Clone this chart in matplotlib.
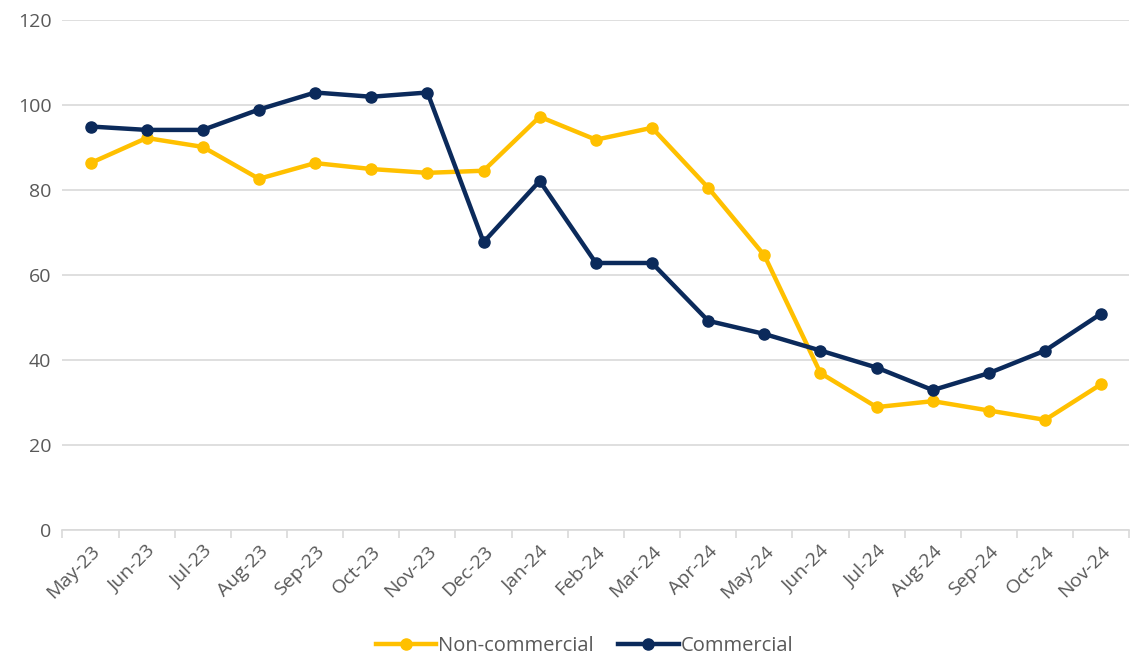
import numpy as np
import matplotlib
matplotlib.use('Agg')
import matplotlib.pyplot as plt
from matplotlib.ticker import FixedLocator

months = ['May-23', 'Jun-23', 'Jul-23', 'Aug-23', 'Sep-23', 'Oct-23', 'Nov-23', 'Dec-23',
          'Jan-24', 'Feb-24', 'Mar-24', 'Apr-24', 'May-24', 'Jun-24', 'Jul-24', 'Aug-24',
          'Sep-24', 'Oct-24', 'Nov-24']
non_commercial = [86.3, 92.2, 90.1, 82.6, 86.3, 84.9, 84.0, 84.5, 97.2, 91.8, 94.6,
                  80.5, 64.6, 36.9, 28.9, 30.3, 28.1, 25.9, 34.3]
commercial = [94.9, 94.1, 94.1, 98.9, 102.9, 101.9, 102.9, 67.7, 82.1, 62.8, 62.8,
              49.2, 46.1, 42.2, 38.2, 32.9, 36.9, 42.2, 50.9]

plt.rcParams['font.family'] = ['Open Sans', 'DejaVu Sans']

fig = plt.figure(figsize=(11.35, 6.6), dpi=100)
ax = fig.add_axes([0.055, 0.197, 0.94, 0.773])

x = np.arange(len(months))
ax.plot(x, non_commercial, color='#FFC000', lw=3.2, marker='o', ms=8,
        label='Non-commercial', zorder=3)
ax.plot(x, commercial, color='#0B2A5B', lw=3.2, marker='o', ms=8,
        label='Commercial', zorder=4)

ax.set_xlim(-0.5, len(months) - 0.5)
ax.set_ylim(0, 120)
ax.set_yticks(range(0, 121, 20))
ax.grid(axis='y', color='#D9D9D9', lw=1.2)
ax.set_axisbelow(True)

for s in ['top', 'right', 'left']:
    ax.spines[s].set_visible(False)
ax.spines['bottom'].set_color('#D9D9D9')
ax.spines['bottom'].set_linewidth(1.2)

ax.set_xticks(x)
ax.set_xticklabels(months, rotation=45, ha='right', rotation_mode='anchor')
ax.xaxis.set_minor_locator(FixedLocator(np.arange(-0.5, len(months), 1)))
ax.tick_params(axis='x', which='major', length=0, pad=9, labelsize=14, colors='#595959')
ax.tick_params(axis='x', which='minor', length=6, color='#D9D9D9', width=1.2)
ax.tick_params(axis='y', length=0, labelsize=14, colors='#595959', pad=8)

leg = fig.legend(loc='lower center', bbox_to_anchor=(0.515, -0.022), ncol=2, frameon=False,
                 fontsize=14.5, handlelength=3, handletextpad=0.1, columnspacing=1.2)
for t in leg.get_texts():
    t.set_color('#595959')

fig.savefig('out.png', dpi=100)
